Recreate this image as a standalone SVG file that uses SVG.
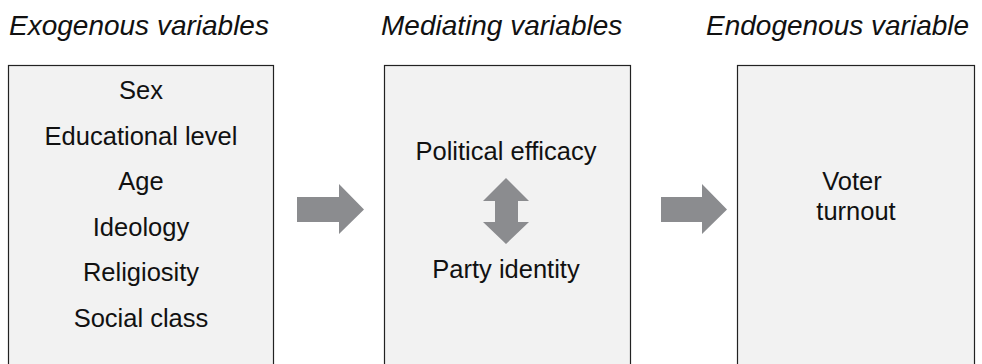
<svg xmlns="http://www.w3.org/2000/svg" width="982" height="364" viewBox="0 0 982 364">
<style>
.title{font-family:"Liberation Sans",Arial,sans-serif;font-style:italic;font-size:28px;fill:#111}
.box{fill:#f2f2f2;stroke:#222;stroke-width:1.2}
.lbl{font-family:"Liberation Sans",Arial,sans-serif;font-size:25.5px;fill:#111;text-anchor:middle}
.arr{fill:#8b8c8f}
</style>
<rect width="982" height="364" fill="#fff"/>
<g id="titles">
<text class="title" x="9" y="35">Exogenous variables</text>
<text class="title" x="381" y="35">Mediating variables</text>
<text class="title" x="706" y="35">Endogenous variable</text>
</g>
<g id="exogenous">
<rect class="box" x="8.5" y="65.5" width="265" height="310"/>
<text class="lbl" x="141" y="99">Sex</text>
<text class="lbl" x="141" y="145">Educational level</text>
<text class="lbl" x="141" y="190">Age</text>
<text class="lbl" x="141" y="236">Ideology</text>
<text class="lbl" x="141" y="281">Religiosity</text>
<text class="lbl" x="141" y="327">Social class</text>
</g>
<g id="mediating">
<rect class="box" x="384.5" y="65.5" width="246" height="310"/>
<text class="lbl" x="506" y="160">Political efficacy</text>
<path class="arr" d="M506,178 L529,201 L518,201 L518,222 L529,222 L506,244 L483,222 L495,222 L495,201 L483,201 Z"/>
<text class="lbl" x="506" y="278">Party identity</text>
</g>
<g id="endogenous">
<rect class="box" x="737.5" y="65.5" width="237" height="310"/>
<text class="lbl" x="852" y="190">Voter</text>
<text class="lbl" x="856" y="220">turnout</text>
</g>
<g id="connectors">
<path class="arr" d="M297,197 L339,197 L339,184 L364,209.5 L339,234 L339,222 L297,222 Z"/>
<path class="arr" d="M661,197 L702,197 L702,184 L727,209.5 L702,234 L702,222 L661,222 Z"/>
</g>
</svg>
